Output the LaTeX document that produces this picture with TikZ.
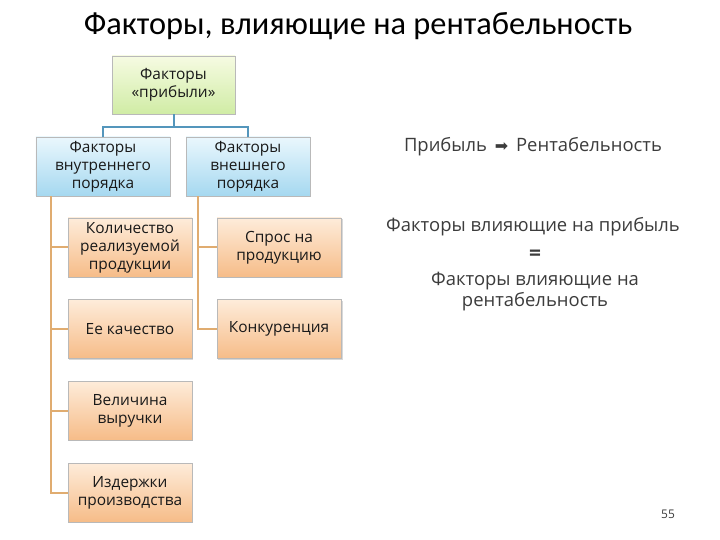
\documentclass[tikz,border=0pt]{standalone}
\usepackage{fontspec}
\setmainfont{Open Sans}
\newfontfamily\titlefont{Carlito}
\newfontfamily\symfont{DejaVu Sans}
\usepackage{tikz}
\usetikzlibrary{positioning,shadows,calc}
\usepackage{xcolor}
\definecolor{greentop}{RGB}{246,251,226}
\definecolor{greenbot}{RGB}{208,236,165}
\definecolor{bluetop}{RGB}{234,247,253}
\definecolor{bluebot}{RGB}{165,216,240}
\definecolor{orangetop}{RGB}{254,236,218}
\definecolor{orangebot}{RGB}{246,188,136}
\definecolor{blueline}{RGB}{84,150,188}
\definecolor{orangeline}{RGB}{224,172,112}
\definecolor{boxborder}{RGB}{185,185,185}
\definecolor{textgray}{RGB}{60,60,60}

\tikzset{
  factorbox/.style={draw=boxborder,align=center,inner sep=2pt,text=black!90,
    font=\fontsize{15.5}{18}\selectfont,
    drop shadow={shadow xshift=1.5pt,shadow yshift=-1.5pt,opacity=0.3}},
  profitbox/.style={factorbox,top color=greentop,bottom color=greenbot,
    minimum width=123bp,minimum height=58bp},
  groupbox/.style={factorbox,top color=bluetop,bottom color=bluebot,
    minimum height=59bp},
  itembox/.style={factorbox,top color=orangetop,bottom color=orangebot,
    minimum width=124bp,minimum height=59bp},
  blueconn/.style={blueline,line width=2bp},
  orangeconn/.style={orangeline,line width=2bp},
  sidetext/.style={text=textgray,align=center,font=\fontsize{18.5}{21}\selectfont}
}

\begin{document}
\begin{tikzpicture}[x=1bp,y=-1bp]
    \useasboundingbox[fill=white] (0,0) rectangle (720,540);

    % Title
    \node[font=\titlefont\fontsize{32.5}{36}\selectfont] (title) at (358,26)
        {Факторы, влияющие на рентабельность};

    % Tree of factors
    \node[profitbox] (profit) at (173.5,85) {Факторы\\«прибыли»};
    \node[groupbox,minimum width=134bp] (inner) at (103,166.5)
        {Факторы\\внутреннего\\порядка};
    \node[groupbox,minimum width=124bp] (outer) at (248,166.5)
        {Факторы\\внешнего\\порядка};

    \node[itembox] (amount)  at (130,247.5) {Количество\\реализуемой\\продукции};
    \node[itembox] (quality) at (130,329)   {Ее качество};
    \node[itembox] (revenue) at (130,410.5) {Величина\\выручки};
    \node[itembox] (costs)   at (130,492.5) {Издержки\\производства};

    \node[itembox] (demand)  at (279,247.5) {Спрос на\\продукцию};
    \node[itembox] (rivals)  at (279,329)   {Конкуренция};

    % Connectors
    \coordinate (split) at (173.5,127);
    \draw[blueconn] (profit.south) -- (split) -| (inner.north);
    \draw[blueconn] (split) -| (outer.north);

    \coordinate (ltrunk) at ($(inner.south west)+(15,0)$);
    \foreach \leaf in {amount,quality,revenue,costs}
        \draw[orangeconn] (ltrunk) |- (\leaf.west);
    \coordinate (rtrunk) at ($(outer.south west)+(12,0)$);
    \foreach \leaf in {demand,rivals}
        \draw[orangeconn] (rtrunk) |- (\leaf.west);

    % Side notes
    \node[sidetext] (chain) at (533,147)
        {Прибыль \,{\symfont\fontsize{16}{18}\selectfont ➡}\, Рентабельность};
    \node[sidetext] (lhs) at (533,227) {Факторы влияющие на прибыль};
    \node[sidetext,font=\bfseries\fontsize{21}{21}\selectfont] (equals)
        at (535,255) {=};
    \node[sidetext] (rhs) at (535,292) {Факторы влияющие на\\рентабельность};

    % Page number
    \node[text=textgray,font=\fontsize{12}{14}\selectfont] (page) at (668,514) {55};
\end{tikzpicture}
\end{document}
